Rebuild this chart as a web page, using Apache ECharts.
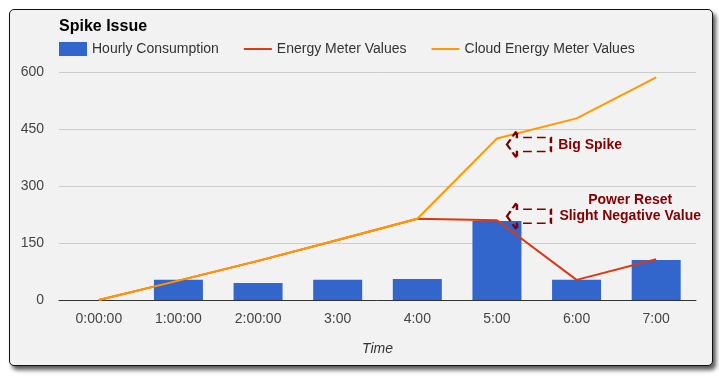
<!DOCTYPE html>
<html>
<head>
<meta charset="utf-8">
<script src="https://cdn.jsdelivr.net/npm/echarts@6/dist/echarts.min.js"></script>
<style>
  html, body { margin: 0; padding: 0; background: #ffffff; }
  #frame {
    position: absolute; left: 9px; top: 9px; width: 704px; height: 357px;
    box-sizing: border-box; border: 1px solid #111; border-radius: 5px;
    background: #f2f2f2; box-shadow: 3px 4px 4px rgba(0,0,0,0.65);
  }
  #chart { position: absolute; left: 0; top: 0; width: 719px; height: 380px; }
</style>
</head>
<body>
<div id="frame"></div>
<div id="chart"></div>
<script>
const categories = ['0:00:00', '1:00:00', '2:00:00', '3:00', '4:00', '5:00', '6:00', '7:00'];
const hourlyConsumption = [0, 53, 45, 53, 55, 208, 53, 105];
const energyMeterValues = [0, 51, 103, 158, 214, 210, 53, 107];
const cloudEnergyMeterValues = [0, 51, 103, 158, 214, 425, 478, 586];
const yTicks = [0, 150, 300, 450, 600];
const seriesNames = ['Hourly Consumption', 'Energy Meter Values', 'Cloud Energy Meter Values'];
const annotationTexts = ['Big Spike', 'Power Reset\nSlight Negative Value'];
const spikeIndex = 5;

const FONT = '"Liberation Sans", Arial, sans-serif';
const MAROON = '#800000';
const ARROW = 'path://M0,14 L10,0 L10,7 L44,7 L44,21 L10,21 L10,28 Z';
const LINE_ICON = 'path://M0,0 L28,0 L28,2 L0,2 Z';

const chart = echarts.init(document.getElementById('chart'), null, { renderer: 'canvas' });

const arrowStyle = {
  color: 'transparent',
  borderColor: MAROON,
  borderWidth: 2,
  borderType: [7, 4]
};

chart.setOption({
  animation: false,
  backgroundColor: 'transparent',
  textStyle: { fontFamily: FONT },
  title: {
    text: 'Spike Issue',
    left: 59, top: 19, padding: 0,
    textStyle: { fontFamily: FONT, fontSize: 16, fontWeight: 'bold', color: '#000' }
  },
  legend: {
    left: 59, top: 42, padding: 0,
    itemWidth: 28, itemHeight: 14, itemGap: 25,
    symbolKeepAspect: true,
    textStyle: { fontFamily: FONT, fontSize: 14, color: '#333' },
    data: [
      { name: seriesNames[0], icon: 'rect' },
      { name: seriesNames[1], icon: LINE_ICON },
      { name: seriesNames[2], icon: LINE_ICON }
    ]
  },
  grid: { left: 59, right: 23, top: 72, bottom: 80 },
  xAxis: {
    type: 'category',
    data: categories,
    name: 'Time',
    nameLocation: 'middle',
    nameGap: 42,
    nameTextStyle: { fontFamily: FONT, fontSize: 14, fontStyle: 'italic', color: '#333' },
    axisLine: { lineStyle: { color: '#333', width: 1 } },
    axisTick: { show: false },
    axisLabel: { fontFamily: FONT, fontSize: 14, color: '#444', margin: 12, interval: 0 }
  },
  yAxis: {
    type: 'value',
    min: yTicks[0], max: yTicks[yTicks.length - 1], interval: yTicks[1] - yTicks[0],
    axisLine: { show: false },
    axisTick: { show: false },
    axisLabel: { fontFamily: FONT, fontSize: 14, color: '#444', margin: 15 },
    splitLine: { lineStyle: { color: '#cccccc', width: 1 } }
  },
  series: [
    {
      name: seriesNames[0],
      type: 'bar',
      data: hourlyConsumption,
      barWidth: 49,
      itemStyle: { color: '#3366cc' }
    },
    {
      name: seriesNames[1],
      type: 'line',
      data: energyMeterValues,
      symbol: 'none',
      lineStyle: { color: '#dc3912', width: 2 },
      itemStyle: { color: '#dc3912' },
      markPoint: {
        silent: true,
        data: [{
          coord: [categories[spikeIndex], energyMeterValues[spikeIndex]],
          symbol: ARROW,
          symbolSize: [44, 28],
          symbolOffset: [32, -4],
          itemStyle: arrowStyle,
          label: {
            show: true,
            formatter: annotationTexts[1],
            position: 'right',
            distance: 78,
            align: 'center',
            offset: [0, -8],
            lineHeight: 16,
            fontFamily: FONT, fontSize: 14, fontWeight: 'bold', color: MAROON
          }
        }]
      }
    },
    {
      name: seriesNames[2],
      type: 'line',
      data: cloudEnergyMeterValues,
      symbol: 'none',
      lineStyle: { color: '#ff9900', width: 2 },
      itemStyle: { color: '#ff9900' },
      markPoint: {
        silent: true,
        data: [{
          coord: [categories[spikeIndex], cloudEnergyMeterValues[spikeIndex]],
          symbol: ARROW,
          symbolSize: [44, 28],
          symbolOffset: [32, 6],
          itemStyle: arrowStyle,
          label: {
            show: true,
            formatter: annotationTexts[0],
            position: 'right',
            distance: 6,
            offset: [0, 1],
            fontFamily: FONT, fontSize: 14, fontWeight: 'bold', color: MAROON
          }
        }]
      }
    }
  ]
});
</script>
</body>
</html>
